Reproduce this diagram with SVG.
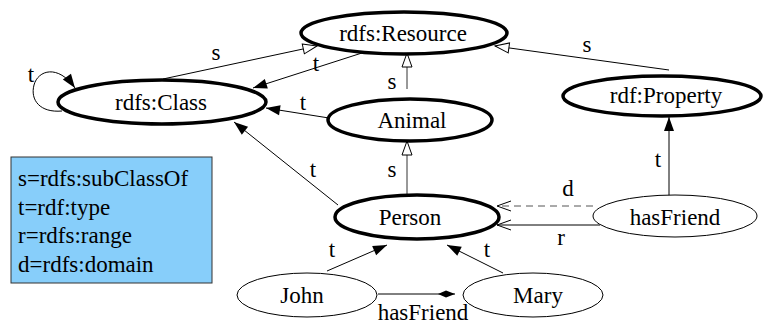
<svg xmlns="http://www.w3.org/2000/svg" width="763" height="325" viewBox="0 0 763 325">
  <style>
    text { font-family: Liberation Serif, Times New Roman, Times, DejaVu Serif, serif; font-size: 23px; }
    .lbl { text-anchor: middle; }
    .node-major { fill: #fff; stroke: #000; stroke-width: 3.5; }
    .node-minor { fill: #fff; stroke: #000; stroke-width: 1; }
    .edge { fill: none; stroke: #000; stroke-width: 1; }
    .sub { fill: none; stroke: #333; stroke-width: 1; }
    .dash { fill: none; stroke: #555; stroke-width: 1; stroke-dasharray: 7 5; }
    .legend { fill: #87cefa; stroke: #333; stroke-width: 1; }
  </style>
  <defs>
    <marker id="filled" markerUnits="userSpaceOnUse" markerWidth="16" markerHeight="12" refX="14" refY="5" orient="auto" overflow="visible">
      <path d="M0,0 L14,5 L0,10 z" fill="#000"/>
    </marker>
    <marker id="hollow" markerUnits="userSpaceOnUse" markerWidth="16" markerHeight="12" refX="14" refY="5" orient="auto" overflow="visible">
      <path d="M0,0 L14,5 L0,10 z" fill="#fff" stroke="#000" stroke-width="1"/>
    </marker>
    <marker id="vee" markerUnits="userSpaceOnUse" markerWidth="16" markerHeight="12" refX="14" refY="5" orient="auto" overflow="visible">
      <path d="M0,0 L14,5 L0,10" fill="none" stroke="#000" stroke-width="1"/>
    </marker>
    <marker id="diamond" markerUnits="userSpaceOnUse" markerWidth="20" markerHeight="10" refX="17" refY="4" orient="auto" overflow="visible">
      <path d="M0,4 L8,0.5 L17,4 L8,7.5 z" fill="#000"/>
    </marker>
  </defs>

  <!-- connectors -->
  <g id="edges">
    <path class="edge" d="M163,79 L317,46" marker-end="url(#hollow)"/>
    <path class="edge" d="M365,52 L253,88" marker-end="url(#filled)"/>
    <path class="edge" d="M62,111 C40,113 30,100 34,85 C38,70 58,64 75,88" marker-end="url(#filled)"/>
    <path class="edge" d="M329,118 L266,108" marker-end="url(#filled)"/>
    <path class="sub" d="M407,89 L407,53" marker-end="url(#hollow)"/>
    <path class="edge" d="M669,70 L495,46" marker-end="url(#hollow)"/>
    <path class="edge" d="M338,205 L234,122" marker-end="url(#filled)"/>
    <path class="sub" d="M407,195 L407,141" marker-end="url(#hollow)"/>
    <path class="edge" d="M669,196 L669,117" marker-end="url(#filled)"/>
    <path class="dash" d="M593,206 L497,206" marker-end="url(#vee)"/>
    <path class="edge" d="M600,225 L497,225" marker-end="url(#vee)"/>
    <path class="edge" d="M327,271 L387,245" marker-end="url(#filled)"/>
    <path class="edge" d="M503,273 L447,245" marker-end="url(#filled)"/>
    <path class="edge" d="M378,294 L455,294" marker-end="url(#diamond)"/>

    <text class="lbl" x="216" y="60">s</text>
    <text class="lbl" x="31" y="82">t</text>
    <text class="lbl" x="316" y="71">t</text>
    <text class="lbl" x="303" y="110">t</text>
    <text class="lbl" x="392" y="89">s</text>
    <text class="lbl" x="587" y="52">s</text>
    <text class="lbl" x="313" y="177">t</text>
    <text class="lbl" x="392" y="177">s</text>
    <text class="lbl" x="658" y="167">t</text>
    <text class="lbl" x="568" y="196">d</text>
    <text class="lbl" x="561" y="245">r</text>
    <text class="lbl" x="332" y="257">t</text>
    <text class="lbl" x="487" y="257">t</text>
    <text class="lbl" x="423" y="320">hasFriend</text>
  </g>

  <g id="rdfs-resource">
    <ellipse class="node-major" cx="404" cy="33" rx="103" ry="21"/>
    <text class="lbl" x="403" y="41">rdfs:Resource</text>
  </g>
  <g id="rdfs-class">
    <ellipse class="node-major" cx="162" cy="102" rx="104" ry="22"/>
    <text class="lbl" x="161" y="110">rdfs:Class</text>
  </g>
  <g id="animal">
    <ellipse class="node-major" cx="410" cy="120" rx="82" ry="21"/>
    <text class="lbl" x="412" y="128">Animal</text>
  </g>
  <g id="rdf-property">
    <ellipse class="node-major" cx="662" cy="96" rx="99" ry="20"/>
    <text class="lbl" x="666" y="103">rdf:Property</text>
  </g>
  <g id="person">
    <ellipse class="node-major" cx="417" cy="217" rx="82" ry="22"/>
    <text class="lbl" x="410" y="225">Person</text>
  </g>
  <g id="hasfriend">
    <ellipse class="node-minor" cx="675" cy="216" rx="82" ry="21"/>
    <text class="lbl" x="675" y="225">hasFriend</text>
  </g>
  <g id="john">
    <ellipse class="node-minor" cx="307" cy="295" rx="70" ry="22"/>
    <text class="lbl" x="302" y="303">John</text>
  </g>
  <g id="mary">
    <ellipse class="node-minor" cx="533" cy="295" rx="70" ry="22"/>
    <text class="lbl" x="538" y="303">Mary</text>
  </g>

  <g id="legend">
    <rect class="legend" x="11" y="157" width="201" height="126"/>
    <text x="18" y="186">s=rdfs:subClassOf</text>
    <text x="18" y="215">t=rdf:type</text>
    <text x="18" y="243">r=rdfs:range</text>
    <text x="18" y="272">d=rdfs:domain</text>
  </g>
</svg>
